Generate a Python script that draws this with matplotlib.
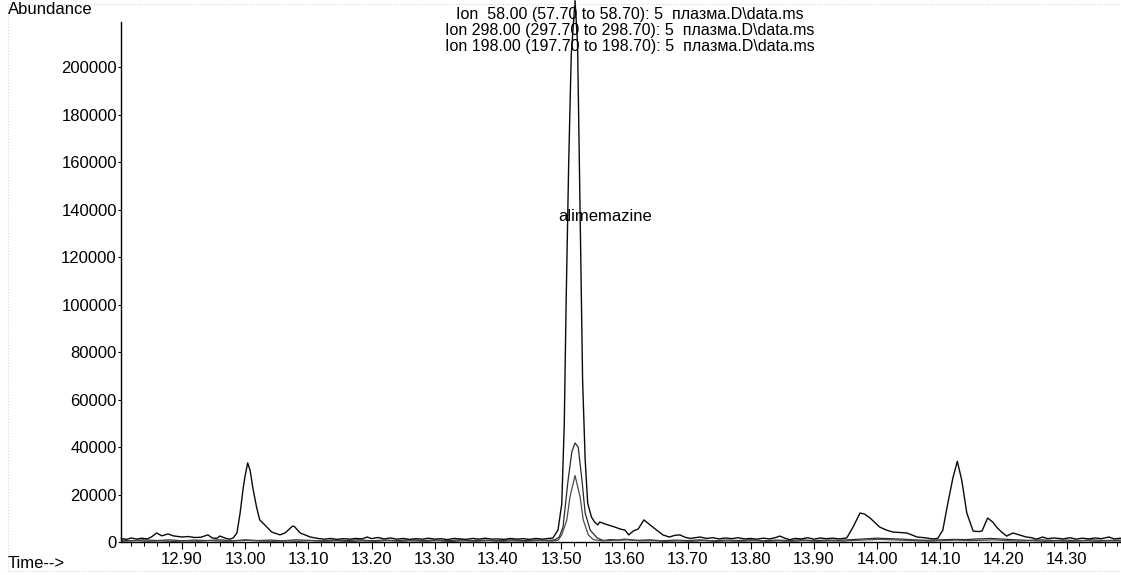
"""
Extracted ion chromatogram (Ion 58 / 298 / 198), plasma sample, alimemazine peak.

Output: out.png
"""

import matplotlib
matplotlib.use('Agg')
import matplotlib.pyplot as plt
from matplotlib.ticker import MultipleLocator, FixedLocator
from matplotlib.patches import Rectangle

plt.rcParams['font.family'] = ['Liberation Sans', 'DejaVu Sans']

# ---- Data ------------------------------------------------------------
ION_LABELS = [
    'Ion  58.00 (57.70 to 58.70): 5  плазма.D\\data.ms',
    'Ion 298.00 (297.70 to 298.70): 5  плазма.D\\data.ms',
    'Ion 198.00 (197.70 to 198.70): 5  плазма.D\\data.ms',
]

# Ion 58 trace (time, abundance)
t58 = [12.804, 12.812, 12.820, 12.828, 12.836, 12.845, 12.852, 12.860, 12.868, 12.878,
       12.886, 12.894, 12.900, 12.910, 12.920, 12.930, 12.941, 12.948, 12.955, 12.960,
       12.970, 12.976, 12.981, 12.987, 12.992, 12.997, 13.000, 13.004, 13.008, 13.012,
       13.018, 13.023, 13.031, 13.042, 13.055, 13.063, 13.075, 13.078, 13.087, 13.103,
       13.115, 13.125, 13.135, 13.145, 13.155, 13.165, 13.175, 13.185, 13.193, 13.200,
       13.210, 13.220, 13.230, 13.240, 13.250, 13.260, 13.270, 13.280, 13.290, 13.300,
       13.310, 13.320, 13.330, 13.340, 13.350, 13.360, 13.370, 13.380, 13.390, 13.400,
       13.410, 13.420, 13.430, 13.440, 13.450, 13.460, 13.470, 13.480, 13.487, 13.495,
       13.501, 13.505, 13.508, 13.512, 13.516, 13.522, 13.526, 13.530, 13.534, 13.538,
       13.542, 13.548, 13.553, 13.558, 13.561, 13.574, 13.585, 13.593, 13.601, 13.607,
       13.614, 13.622, 13.631, 13.645, 13.661, 13.671, 13.680, 13.688, 13.696, 13.704,
       13.712, 13.720, 13.730, 13.740, 13.750, 13.760, 13.770, 13.780, 13.790, 13.800,
       13.810, 13.820, 13.830, 13.840, 13.846, 13.855, 13.862, 13.870, 13.880, 13.890,
       13.900, 13.910, 13.920, 13.930, 13.940, 13.952, 13.962, 13.973, 13.980, 13.989,
       14.004, 14.015, 14.025, 14.036, 14.047, 14.055, 14.063, 14.075, 14.088, 14.096,
       14.104, 14.112, 14.120, 14.127, 14.134, 14.142, 14.152, 14.160, 14.166, 14.175,
       14.183, 14.190, 14.197, 14.205, 14.215, 14.225, 14.236, 14.245, 14.252, 14.262,
       14.270, 14.280, 14.294, 14.305, 14.315, 14.325, 14.335, 14.345, 14.355, 14.367,
       14.375, 14.386]
a58 = [1500, 1100, 1700, 1200, 1600, 1300, 2200, 3800, 2600, 3400,
       2600, 2300, 2100, 2300, 1900, 2000, 3000, 1700, 1500, 2500,
       1500, 1200, 1700, 3800, 12200, 23000, 28000, 33300, 30000, 23000,
       14700, 9300, 7200, 4200, 3000, 3800, 6700, 6500, 3800, 2100,
       1500, 1200, 1500, 1100, 1400, 1200, 1500, 1300, 2100, 1400,
       1900, 1300, 1700, 1200, 1500, 1100, 1400, 1200, 1600, 1200,
       1400, 1000, 1500, 1300, 1100, 1500, 1200, 1600, 1200, 1300,
       1100, 1500, 1200, 1400, 1100, 1500, 1200, 1500, 1700, 5000,
       16000, 50000, 102000, 160000, 205000, 228000, 210000, 140000, 68000, 35000,
       16400, 10500, 8400, 7200, 8400, 7200, 6300, 5500, 5000, 3000,
       4600, 5500, 9300, 6300, 3000, 2100, 2800, 3000, 2000, 1500,
       1800, 2100, 1500, 1800, 1300, 1700, 1400, 1800, 1300, 1500,
       1200, 1600, 1300, 1900, 2500, 1500, 1000, 1500, 1300, 1800,
       1200, 1700, 1400, 1600, 1300, 1700, 6300, 12200, 11800, 10100,
       6300, 5000, 4200, 4000, 3800, 3000, 2100, 1800, 1300, 1500,
       5000, 16400, 27000, 34000, 26000, 12200, 4600, 4400, 4600, 10100,
       8400, 6000, 4200, 2500, 3800, 3000, 2100, 1800, 1200, 2100,
       1400, 1700, 1300, 1800, 1200, 1600, 1300, 1700, 1400, 2100,
       1300, 1600]

# Ion 298 trace
t298 = [12.804, 12.82, 12.84, 12.86, 12.88, 12.90, 12.92, 12.94, 12.96, 12.98,
        13.00, 13.02, 13.04, 13.06, 13.08, 13.10, 13.12, 13.14, 13.16, 13.18,
        13.20, 13.22, 13.24, 13.26, 13.28, 13.30, 13.32, 13.34, 13.36, 13.38,
        13.40, 13.42, 13.44, 13.46, 13.48, 13.490, 13.497, 13.503, 13.511, 13.517,
        13.522, 13.527, 13.533, 13.538, 13.546, 13.557, 13.567, 13.577, 13.59, 13.60,
        13.62, 13.64, 13.66, 13.68, 13.70, 13.72, 13.74, 13.76, 13.78, 13.80,
        13.82, 13.84, 13.86, 13.88, 13.90, 13.92, 13.94, 13.96, 13.98, 14.00,
        14.02, 14.04, 14.06, 14.08, 14.10, 14.12, 14.14, 14.16, 14.18, 14.20,
        14.22, 14.24, 14.26, 14.28, 14.30, 14.32, 14.34, 14.36, 14.386]
a298 = [800, 500, 900, 600, 900, 500, 800, 600, 900, 500,
        900, 600, 800, 500, 900, 700, 500, 800, 600, 900,
        500, 800, 600, 900, 600, 800, 500, 900, 600, 800,
        500, 900, 600, 800, 700, 900, 2100, 6300, 26000, 38000,
        41700, 40000, 26000, 12200, 5000, 1700, 600, 1000, 800, 1200,
        700, 900, 500, 800, 600, 900, 500, 800, 600, 900,
        500, 800, 600, 900, 600, 800, 700, 1000, 1300, 1600,
        1400, 1200, 900, 700, 900, 1100, 1000, 1300, 1500, 1200,
        900, 700, 900, 600, 800, 500, 900, 600, 800]

# Ion 198 trace
t198 = [12.804, 12.825, 12.845, 12.865, 12.885, 12.905, 12.925, 12.945, 12.965, 12.985,
        13.005, 13.025, 13.045, 13.065, 13.085, 13.105, 13.125, 13.145, 13.165, 13.185,
        13.205, 13.225, 13.245, 13.265, 13.285, 13.305, 13.325, 13.345, 13.365, 13.385,
        13.405, 13.425, 13.445, 13.465, 13.485, 13.495, 13.501, 13.509, 13.514, 13.522,
        13.530, 13.535, 13.543, 13.551, 13.565, 13.585, 13.605, 13.625, 13.645, 13.665,
        13.685, 13.705, 13.725, 13.745, 13.765, 13.785, 13.805, 13.825, 13.845, 13.865,
        13.885, 13.905, 13.925, 13.945, 13.965, 13.985, 14.005, 14.025, 14.045, 14.065,
        14.085, 14.105, 14.125, 14.145, 14.165, 14.185, 14.205, 14.225, 14.245, 14.265,
        14.285, 14.305, 14.325, 14.345, 14.365, 14.386]
a198 = [300, 600, 300, 500, 200, 500, 300, 600, 300, 500,
        700, 400, 300, 500, 300, 600, 300, 500, 200, 500,
        300, 600, 300, 500, 300, 600, 200, 500, 300, 600,
        300, 500, 300, 600, 400, 700, 3000, 9300, 19000, 28000,
        19000, 9300, 3000, 1000, 500, 700, 900, 500, 600, 300,
        500, 300, 600, 300, 500, 300, 600, 300, 500, 300,
        600, 300, 500, 400, 700, 900, 1100, 900, 700, 500,
        400, 600, 800, 600, 700, 900, 600, 400, 600, 300,
        500, 300, 600, 300, 500, 400]

X_MAJOR = [12.90, 13.00, 13.10, 13.20, 13.30, 13.40, 13.50, 13.60, 13.70,
           13.80, 13.90, 14.00, 14.10, 14.20, 14.30]
Y_TICKS = [0, 20000, 40000, 60000, 80000, 100000, 120000, 140000, 160000,
           180000, 200000]

PEAK_NAME = 'alimemazine'


def main():
    W, H = 1121, 575
    fig = plt.figure(figsize=(W / 100, H / 100), dpi=100)
    ax = fig.add_axes([121 / W, 33 / H, 1000 / W, 520 / H])

    # faint border of the scanned page
    fig.add_artist(Rectangle((8 / W, 4 / H), 1.2, 1 - 8 / H, transform=fig.transFigure,
                             fill=False, edgecolor='#d5d5d5', linewidth=0.8,
                             linestyle=':'))

    ax.plot(t58, a58, color='#0a0a0a', linewidth=1.0, clip_on=False, zorder=3)
    ax.plot(t298, a298, color='#2a2a2a', linewidth=0.9, zorder=2)
    ax.plot(t198, a198, color='#4a4a4a', linewidth=0.9, zorder=2)

    ax.set_xlim(12.8035, 14.386)
    ax.set_ylim(0, 219000)

    for s in ('top', 'right'):
        ax.spines[s].set_visible(False)
    ax.spines['left'].set_linewidth(1.0)
    ax.spines['bottom'].set_linewidth(1.0)

    ax.xaxis.set_major_locator(FixedLocator(X_MAJOR))
    ax.set_xticklabels([f'{v:.2f}' for v in X_MAJOR])
    ax.xaxis.set_minor_locator(MultipleLocator(0.02))
    ax.yaxis.set_major_locator(FixedLocator(Y_TICKS))
    ax.set_yticklabels([str(v) for v in Y_TICKS])

    ax.tick_params(axis='x', which='major', direction='out', length=5, width=0.8,
                   labelsize=12, pad=2)
    ax.tick_params(axis='x', which='minor', direction='out', length=3, width=0.7)
    ax.tick_params(axis='y', direction='out', length=2, width=0.8, labelsize=12, pad=1)

    ax.text(13.569, 137000, PEAK_NAME, ha='center', va='center', fontsize=12,
            zorder=4)

    for i, line in enumerate(ION_LABELS):
        fig.text(630 / W, 1 - (15 + 15.5 * i) / H, line, ha='center', va='center',
                 fontsize=11.5, zorder=5)

    fig.text(8 / W, 1 - 10 / H, 'Abundance', ha='left', va='center', fontsize=12)
    fig.text(8 / W, 1 - 563 / H, 'Time-->', ha='left', va='center', fontsize=12)

    fig.savefig('out.png', dpi=100)


if __name__ == '__main__':
    main()
